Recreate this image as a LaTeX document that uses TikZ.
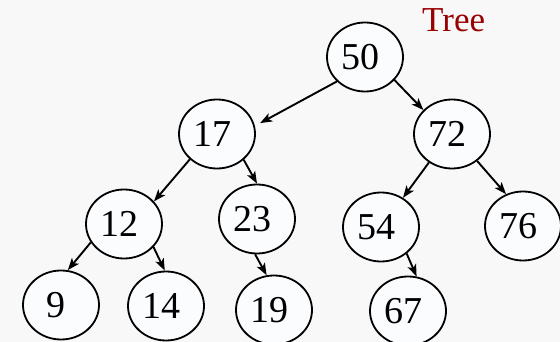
\documentclass[tikz,border=0pt]{standalone}
\usepackage{fontspec}
\setmainfont{Liberation Serif}
\usetikzlibrary{shapes.geometric,arrows.meta}
\definecolor{bgc}{rgb}{0.972,0.974,0.976}
\definecolor{nodefill}{rgb}{0.982,0.988,0.996}
\definecolor{treered}{rgb}{0.60,0.0,0.0}
\begin{document}
\begin{tikzpicture}[x=1pt,y=-1pt,
  tnode/.style={ellipse,draw=black,line width=1.8pt,fill=nodefill,
    minimum width=76pt,minimum height=69pt,inner sep=0pt,
    font=\fontsize{38}{40}\selectfont,
    execute at begin node={\hspace*{-10pt}}},
  arr/.style={line width=1.9pt,-{Stealth[length=12pt,width=9pt,inset=3pt]}}]
\fill[bgc] (0,0) rectangle (560,342);
\useasboundingbox (0,0) rectangle (560,342);
\node[tnode] (n50) at (365,57) {50};
\node[tnode] (n17) at (217,134) {17};
\node[tnode] (n72) at (452,134) {72};
\node[tnode] (n12) at (124,224) {12};
\node[tnode] (n23) at (257,219) {23};
\node[tnode] (n54) at (381,227) {54};
\node[tnode] (n76) at (523,226) {76};
\node[tnode] (n9) at (61,305) {9};
\node[tnode] (n14) at (166,306) {14};
\node[tnode] (n19) at (274,310) {19};
\node[tnode] (n67) at (408,311) {67};
\node[anchor=base west,text=treered,inner sep=0pt,font=\fontsize{35}{37}\selectfont] (title) at (422,32) {Tree};
\draw[arr,shorten >=6pt] (n50.221) -- (n17.12);
\draw[arr] (n50.322) -- (n72.140);
\draw[arr] (n17.223) -- (n12.37);
\draw[arr] (n17.316) -- (n23.90);
\draw[arr] (n72.231) -- (n54.53);
\draw[arr] (n72.313) -- (n76.118);
\draw[arr] (n12.209) -- (n9.79);
\draw[arr] (n12.322) -- (n14.92);
\draw[arr] (n23.267) -- (n19.102);
\draw[arr] (n54.314) -- (n67.76);
\end{tikzpicture}
\end{document}
